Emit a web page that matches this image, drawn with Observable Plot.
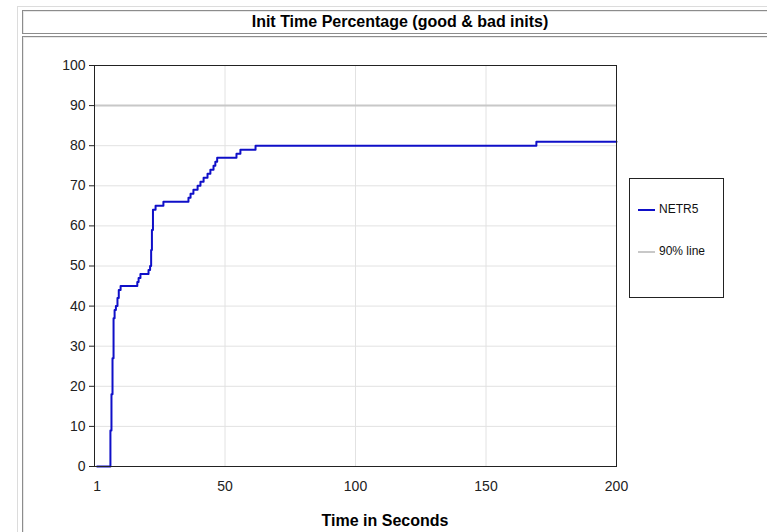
<!DOCTYPE html>
<html>
<head>
<meta charset="utf-8">
<script src="https://cdn.jsdelivr.net/npm/d3@7"></script>
<script src="https://cdn.jsdelivr.net/npm/@observablehq/plot@0.6"></script>
<style>
  html, body { margin: 0; padding: 0; background: #fff; overflow: hidden; }
  body { width: 767px; height: 532px; position: relative; font-family: Arial, "Liberation Sans", sans-serif; }
  .abs { position: absolute; }
  #outer { left: 17px; top: 6px; width: 760px; height: 540px; border: 1px solid #dcdcdc; }
  #titlebox { left: 22px; top: 10px; width: 754px; height: 22px; border: 1px solid #8c8c8c; box-shadow: inset 1px 1px 0 #e8e8e8; }
  #title { left: 22px; top: 10px; width: 756px; height: 24px; line-height: 23px; text-align: center; font-weight: bold; font-size: 16px; color: #000; }
  #chartbox { left: 22px; top: 36px; width: 760px; height: 520px; border: 1px solid #8c8c8c; box-shadow: inset 1px 1px 0 #e8e8e8; }
  #plot { left: 0; top: 0; }
  #xlabel { left: 0; top: 512px; width: 770px; text-align: center; font-weight: bold; font-size: 16px; color: #000; }
  #legend { left: 629px; top: 178px; width: 93px; height: 118px; border: 1px solid #222; background: #fff; }
  .item { position: absolute; left: 8px; font-size: 12px; color: #111; }
  .sw { display: inline-block; width: 17px; height: 0; vertical-align: middle; margin-right: 4px; }
</style>
</head>
<body>
<div id="outer" class="abs"></div>
<div id="titlebox" class="abs"></div>
<div id="title" class="abs"></div>
<div id="chartbox" class="abs"></div>
<div id="plot" class="abs"></div>
<div id="xlabel" class="abs"></div>
<div id="legend" class="abs"></div>
<script>
const titleText = "Init Time Percentage (good & bad inits)";
const xLabel = "Time in Seconds";
const seriesNames = ["NETR5", "90% line"];
const seriesColors = ["#0f0fc8", "#c8c8c8"];
const xTicks = [1, 50, 100, 150, 200];
const yTicks = [0, 10, 20, 30, 40, 50, 60, 70, 80, 90, 100];
const threshold = 90;

// NETR5 cumulative percentage vs time (seconds)
const times =   [1, 6.1, 6.5, 6.9, 7.3, 7.7, 8.2, 8.8, 9.3, 10, 16.4, 16.9, 17.6, 20.7, 21.3, 21.7, 22.0, 22.4, 23.4, 26.4, 36, 36.8, 37.9, 39.5, 40.6, 41.8, 43.3, 44.4, 45.6, 46.3, 47, 54.4, 55.9, 61.7, 169.3, 200];
const percent = [0, 9,   18,  27,  37,  39,  40,  42,  44,  45, 46,   47,   48,   49,   50,   54,   59,   64,   65,   66,   67, 68,   69,   70,   71,   72,   73,   74,   75,   76,   77, 78,   79,   80,   81,    81];

const data = times.map((t, i) => ({t, p: percent[i]}));

document.getElementById("title").textContent = titleText;
document.getElementById("xlabel").textContent = xLabel;

const plot = Plot.plot({
  width: 767,
  height: 532,
  marginLeft: 94,
  marginRight: 151,
  marginTop: 65,
  marginBottom: 66,
  style: {background: "transparent", fontFamily: "Arial, 'Liberation Sans', sans-serif", fontSize: "14px", color: "#222"},
  x: {domain: [0, 200]},
  y: {domain: [0, 100]},
  marks: [
    Plot.gridX([50, 100, 150], {stroke: "#e2e2e2", strokeOpacity: 1}),
    Plot.gridY(yTicks.filter(d => d > 0 && d < 100), {stroke: "#e2e2e2", strokeOpacity: 1}),
    Plot.ruleY([threshold], {stroke: seriesColors[1], strokeWidth: 2}),
    Plot.line(data, {x: "t", y: "p", curve: "step-after", stroke: seriesColors[0], strokeWidth: 2}),
    Plot.frame({stroke: "#222"}),
    Plot.axisY(yTicks, {tickSize: 5, tickPadding: 4, label: null, fontSize: 14, fill: "#222", stroke: "#222"}),
    Plot.axisX(xTicks, {tickSize: 0, tickPadding: 15, label: null, fontSize: 14, fill: "#222", tickFormat: d => String(d)})
  ]
});
document.getElementById("plot").appendChild(plot);

const legend = document.getElementById("legend");
const tops = [23, 65];
seriesNames.forEach((name, i) => {
  const div = document.createElement("div");
  div.className = "item";
  div.style.top = tops[i] + "px";
  const sw = document.createElement("span");
  sw.className = "sw";
  sw.style.borderTop = "2px solid " + seriesColors[i];
  div.appendChild(sw);
  div.appendChild(document.createTextNode(name));
  legend.appendChild(div);
});
</script>
</body>
</html>
